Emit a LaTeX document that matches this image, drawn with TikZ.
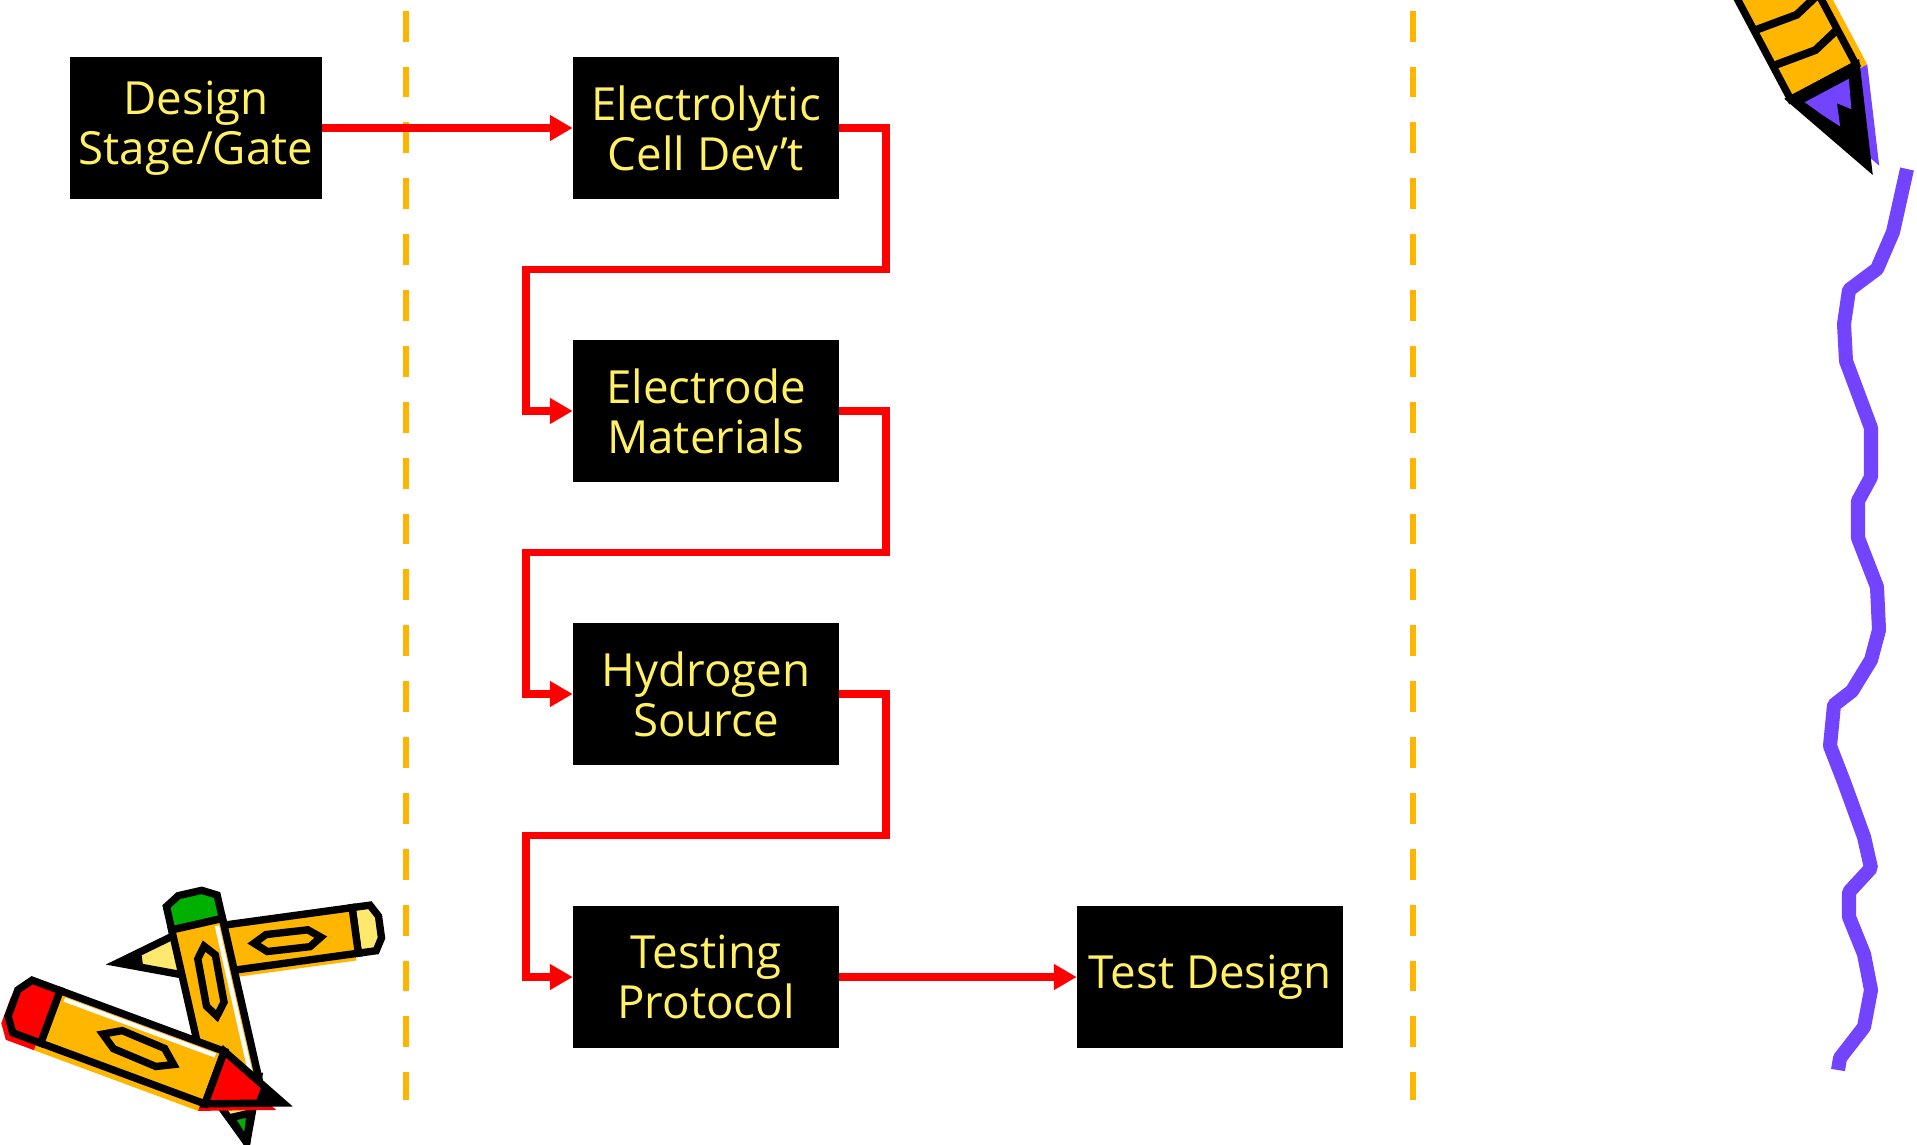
\documentclass[tikz,border=0pt]{standalone}
\usepackage{fontspec}
\setmainfont{Open Sans}
\usepackage{xcolor}
\usepackage{tikz}
\usetikzlibrary{arrows.meta}

\definecolor{boxtext}{RGB}{255,240,100}
\definecolor{linkred}{RGB}{255,0,0}
\definecolor{gateorange}{RGB}{255,180,0}
\definecolor{pencilorange}{RGB}{255,182,0}
\definecolor{pencilred}{RGB}{255,0,0}
\definecolor{pencilgreen}{RGB}{0,176,0}
\definecolor{woodyellow}{RGB}{255,232,110}
\definecolor{penpurple}{RGB}{115,68,255}

\tikzset{nd/.style={rectangle,fill=black,text=boxtext,align=center,inner sep=0pt,
    minimum width=5.32cm,minimum height=2.84cm,font=\fontsize{26}{28.5}\selectfont}}
\tikzset{link/.style={draw=linkred,line width=4.5pt,-{Triangle[length=13pt,width=14pt]}}}
\tikzset{gate/.style={draw=gateorange,line width=3.5pt,dash pattern=on 17.6pt off 14.2pt}}
\tikzset{ink/.style={draw=black,line width=4.2pt,line join=miter}}

\begin{document}
\begin{tikzpicture}[x=0.02cm,y=-0.02cm]
  \useasboundingbox (0,0) rectangle (1917,1145);

	% stage/gate dividers
  \foreach \x in {406,1413}
    \draw[gate] (\x,10.7) -- (\x,1100);

  \node[nd,minimum width=5.04cm] (design) at (196,128) {Design\\Stage/Gate};
  \foreach \y/\txt/\name in {128/{Electrolytic\\Cell Dev’t}/cell, 411/{Electrode\\Materials}/electrode,
      694/{Hydrogen\\Source}/hydrogen, 977/{Testing\\Protocol}/testing} {
    \node[nd] (\name) at (706,\y) {\txt};
  }
  \node[nd] (testdes) at (1210,977) {Test Design};

  \draw[link] (design) -- (cell);
  \foreach \a/\b in {cell/electrode, electrode/hydrogen, hydrogen/testing}
    \draw[link] (\a.east) -- ++(47,0) -- ++(0,141.5) -- ++(-360,0) |- (\b.west);
  \draw[link] (testing) -- (testdes);

	% pencils, bottom left
  \begin{scope}[shift={(380,927)},rotate=-172.2]
    \fill[pencilorange,shift={(3,-7)}] (25,-23) rectangle (195,23);
    \draw[ink,fill=woodyellow] (0,-11) -- (7,-23) -- (25,-23) -- (25,23) -- (7,23) -- (0,11) -- cycle;
    \draw[ink,fill=pencilorange] (25,-23) rectangle (195,23);
    \draw[ink] (60,-2) -- (72,-10) -- (115,-9) -- (127,1) -- (114,8) -- (72,7) -- cycle;
    \draw[ink,fill=woodyellow] (195,-23) -- (265,0) -- (195,23) -- cycle;
    \fill (240,-8) -- (265,0) -- (240,8) -- cycle;
  \end{scope}
  \begin{scope}[shift={(190,893)},rotate=-77.2]
    \draw[ink,fill=pencilgreen] (0,-12) -- (8,-26) -- (32,-26) -- (32,26) -- (8,26) -- (0,12) -- cycle;
    \draw[ink,fill=pencilorange] (32,-26) rectangle (195,26);
    \draw[white,line width=2.5pt] (38,-19) -- (190,-19);
    \draw[ink] (55,-2) -- (66,-11) -- (114,-9) -- (126,1) -- (114,9) -- (66,7) -- cycle;
    \draw[ink,fill=woodyellow] (195,-26) -- (256,0) -- (195,26) -- cycle;
    \draw[ink,fill=pencilgreen] (228,-10) -- (256,0) -- (228,10) -- cycle;
  \end{scope}
  \begin{scope}[shift={(13,1003)},rotate=-20.3]
    \fill[pencilorange,shift={(-4,9)}] (40,-28) rectangle (215,28);
    \fill[pencilred,shift={(-4,9)}] (0,-14) -- (10,-28) -- (40,-28) -- (40,28) -- (10,28) -- (0,14) -- cycle;
    \fill[pencilred,shift={(-4,9)}] (215,-28) -- (288,0) -- (215,28) -- cycle;
    \draw[ink,fill=pencilred] (0,-14) -- (10,-28) -- (40,-28) -- (40,28) -- (10,28) -- (0,14) -- cycle;
    \draw[ink,fill=pencilorange] (40,-28) rectangle (215,28);
    \draw[white,line width=2.5pt] (47,-21) -- (208,-21);
    \draw[ink] (95,-2) -- (112,-12) -- (158,-10) -- (172,2) -- (156,10) -- (110,8) -- cycle;
    \draw[ink,fill=pencilred] (215,-28) -- (288,0) -- (215,28) -- cycle;
    \fill (262,-9) -- (288,0) -- (262,9) -- cycle;
  \end{scope}

	% pen, top right
  \begin{scope}[shift={(1868,166)},rotate=-62]
    \fill[pencilorange,shift={(5,-10)}] (-320,-37) rectangle (-95,37);
    \fill[penpurple,shift={(5,-10)}] (-95,-37) -- (0,0) -- (-95,37) -- cycle;
    \draw[ink,fill=pencilorange] (-320,-37) rectangle (-95,37);
    \foreach \u in {-255,-215,-175,-135}
      \draw[line width=4.5pt] (\u,-37) -- (\u+8,-8) -- (\u+2,37);
    \draw[ink,fill=black] (-95,-37) -- (0,0) -- (-95,37) -- cycle;
    \fill[penpurple] (-86,-24) -- (-58,-12) -- (-70,-2) -- (-48,6) -- (-66,16) -- (-86,26) -- cycle;
  \end{scope}

	% squiggle down the right edge
  \draw[penpurple,line width=8pt,line join=bevel]
    (1907,169) -- (1893,232) -- (1877,269) -- (1849,290) -- (1844,324) -- (1846,361)
    -- (1871,428) -- (1871,477) -- (1858,501) -- (1858,538) -- (1877,587) -- (1879,630)
    -- (1871,660) -- (1852,691) -- (1834,705) -- (1830,746) -- (1844,782) -- (1864,837)
    -- (1871,868) -- (1849,892) -- (1849,917) -- (1864,954) -- (1871,990) -- (1864,1027)
    -- (1840,1058) -- (1838,1070);
\end{tikzpicture}
\end{document}
